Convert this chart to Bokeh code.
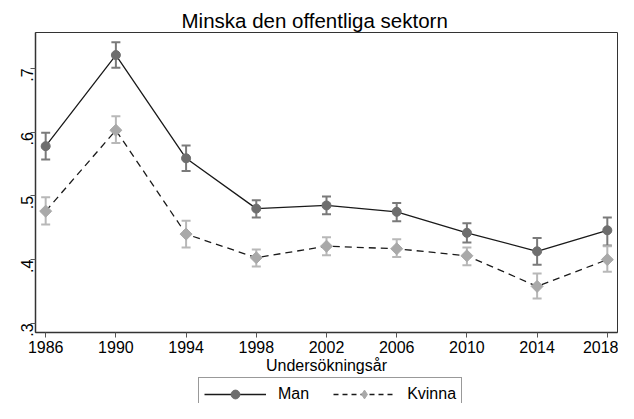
import math
from bokeh.plotting import figure
from bokeh.layouts import column
from bokeh.models import ColumnDataSource, Whisker, TeeHead, Legend, LegendItem, FixedTicker, Range1d
from bokeh.embed import file_html
from bokeh.resources import INLINE

years = [1986, 1990, 1994, 1998, 2002, 2006, 2010, 2014, 2018]
man = [0.578, 0.721, 0.559, 0.480, 0.485, 0.475, 0.442, 0.413, 0.446]
man_lo = [0.557, 0.701, 0.539, 0.466, 0.471, 0.460, 0.427, 0.392, 0.422]
man_hi = [0.599, 0.741, 0.579, 0.493, 0.499, 0.489, 0.457, 0.434, 0.466]
kvinna = [0.476, 0.603, 0.440, 0.403, 0.421, 0.417, 0.406, 0.358, 0.400]
kv_lo = [0.455, 0.583, 0.419, 0.389, 0.407, 0.404, 0.391, 0.339, 0.381]
kv_hi = [0.498, 0.625, 0.461, 0.416, 0.435, 0.432, 0.419, 0.378, 0.421]
y_ticks = [0.3, 0.4, 0.5, 0.6, 0.7]
y_tick_labels = [".3", ".4", ".5", ".6", ".7"]
series_names = ["Man", "Kvinna"]

title_text = "Minska den offentliga sektorn"
x_label = "Undersökningsår"
FONT = "Liberation Sans"

MAN_MARK = "#6e6e6e"
MAN_CI = "#7a7a7a"
KV_MARK = "#a9a9a9"
KV_CI = "#b8b8b8"
LINE = "#1a1a1a"

src_m = ColumnDataSource(dict(x=years, y=man, lo=man_lo, hi=man_hi))
src_k = ColumnDataSource(dict(x=years, y=kvinna, lo=kv_lo, hi=kv_hi))

p = figure(width=618, height=376, output_backend="svg", toolbar_location=None,
           x_range=Range1d(1985.42, 2018.58), y_range=Range1d(0.2856, 0.7564),
           min_border_left=35, min_border_right=1, min_border_top=32, min_border_bottom=40)

p.title.text = title_text
p.title.align = "left"
p.title.offset = 146
p.title.text_font = FONT
p.title.text_font_size = "20.5px"
p.title.text_font_style = "normal"
p.title.text_color = "black"
p.title.standoff = 2

p.xgrid.visible = False
p.ygrid.visible = False
p.outline_line_color = "#333333"
p.outline_line_width = 1
p.background_fill_color = "white"
p.border_fill_color = "white"

p.xaxis.ticker = FixedTicker(ticks=years)
p.yaxis.ticker = FixedTicker(ticks=y_ticks)
p.yaxis.major_label_overrides = {t: l for t, l in zip(y_ticks, y_tick_labels)}
p.yaxis.major_label_orientation = math.pi / 2
p.xaxis.axis_label = x_label
for ax in (p.xaxis[0], p.yaxis[0]):
    ax.axis_line_color = "#333333"
    ax.axis_line_width = 1.5
    ax.major_tick_line_color = "#555555"
    ax.major_tick_line_width = 1
    ax.major_tick_out = 5
    ax.major_tick_in = 0
    ax.minor_tick_line_color = None
    ax.major_label_text_font = FONT
    ax.major_label_text_font_size = "16px"
    ax.major_label_text_color = "black"
    ax.major_label_standoff = 3
    ax.axis_label_text_font = FONT
    ax.axis_label_text_font_size = "16px"
    ax.axis_label_text_font_style = "normal"
    ax.axis_label_text_color = "black"
    ax.axis_label_standoff = 1

wm = Whisker(source=src_m, base="x", lower="lo", upper="hi",
             line_color=MAN_CI, line_width=2,
             upper_head=TeeHead(size=9, line_color=MAN_CI, line_width=2),
             lower_head=TeeHead(size=9, line_color=MAN_CI, line_width=2))
wk = Whisker(source=src_k, base="x", lower="lo", upper="hi",
             line_color=KV_CI, line_width=2,
             upper_head=TeeHead(size=9, line_color=KV_CI, line_width=2),
             lower_head=TeeHead(size=9, line_color=KV_CI, line_width=2))
p.add_layout(wm)
p.add_layout(wk)

p.line("x", "y", source=src_m, line_color=LINE, line_width=1.3)
p.line("x", "y", source=src_k, line_color=LINE, line_width=1.3, line_dash="7 5")
p.scatter("x", "y", source=src_m, marker="circle", size=9,
          fill_color=MAN_MARK, line_color=MAN_MARK)
p.scatter("x", "y", source=src_k, marker="square", size=8.5, angle=math.pi / 4,
          fill_color=KV_MARK, line_color=KV_MARK)

# legend strip below the axis title (its own small figure; the series are
# re-drawn there outside the visible range, only the legend shows)
lf = figure(width=618, height=27, output_backend="svg", toolbar_location=None, title=None,
            x_range=Range1d(1985.42, 2018.58), y_range=Range1d(10, 11),
            x_axis_type=None, y_axis_type=None,
            min_border_left=0, min_border_right=0, min_border_top=0, min_border_bottom=0)
lf.xgrid.visible = False
lf.ygrid.visible = False
lf.outline_line_color = None
lf.background_fill_color = "white"
lf.border_fill_color = "white"
llm = lf.line("x", "y", source=src_m, line_color=LINE, line_width=1.3)
llk = lf.line("x", "y", source=src_k, line_color=LINE, line_width=1.3, line_dash="5 4")
lsm = lf.scatter("x", "y", source=src_m, marker="circle", size=8,
                 fill_color=MAN_MARK, line_color=MAN_MARK)
lsk = lf.scatter("x", "y", source=src_k, marker="diamond", size=8,
                 fill_color=KV_MARK, line_color=KV_MARK)

legend = Legend(items=[LegendItem(label=series_names[0], renderers=[llm, lsm]),
                       LegendItem(label=series_names[1], renderers=[llk, lsk])],
                orientation="horizontal", location=(163, -8),
                glyph_width=62, glyph_height=22, label_standoff=12, spacing=24,
                padding=5, margin=0,
                label_text_font=FONT, label_text_font_size="16px", label_text_color="black",
                border_line_color="#333333", border_line_width=1,
                background_fill_color="white")
lf.add_layout(legend, "center")

layout = column(p, lf, spacing=0)
open("out.html", "w").write(file_html(layout, INLINE))
